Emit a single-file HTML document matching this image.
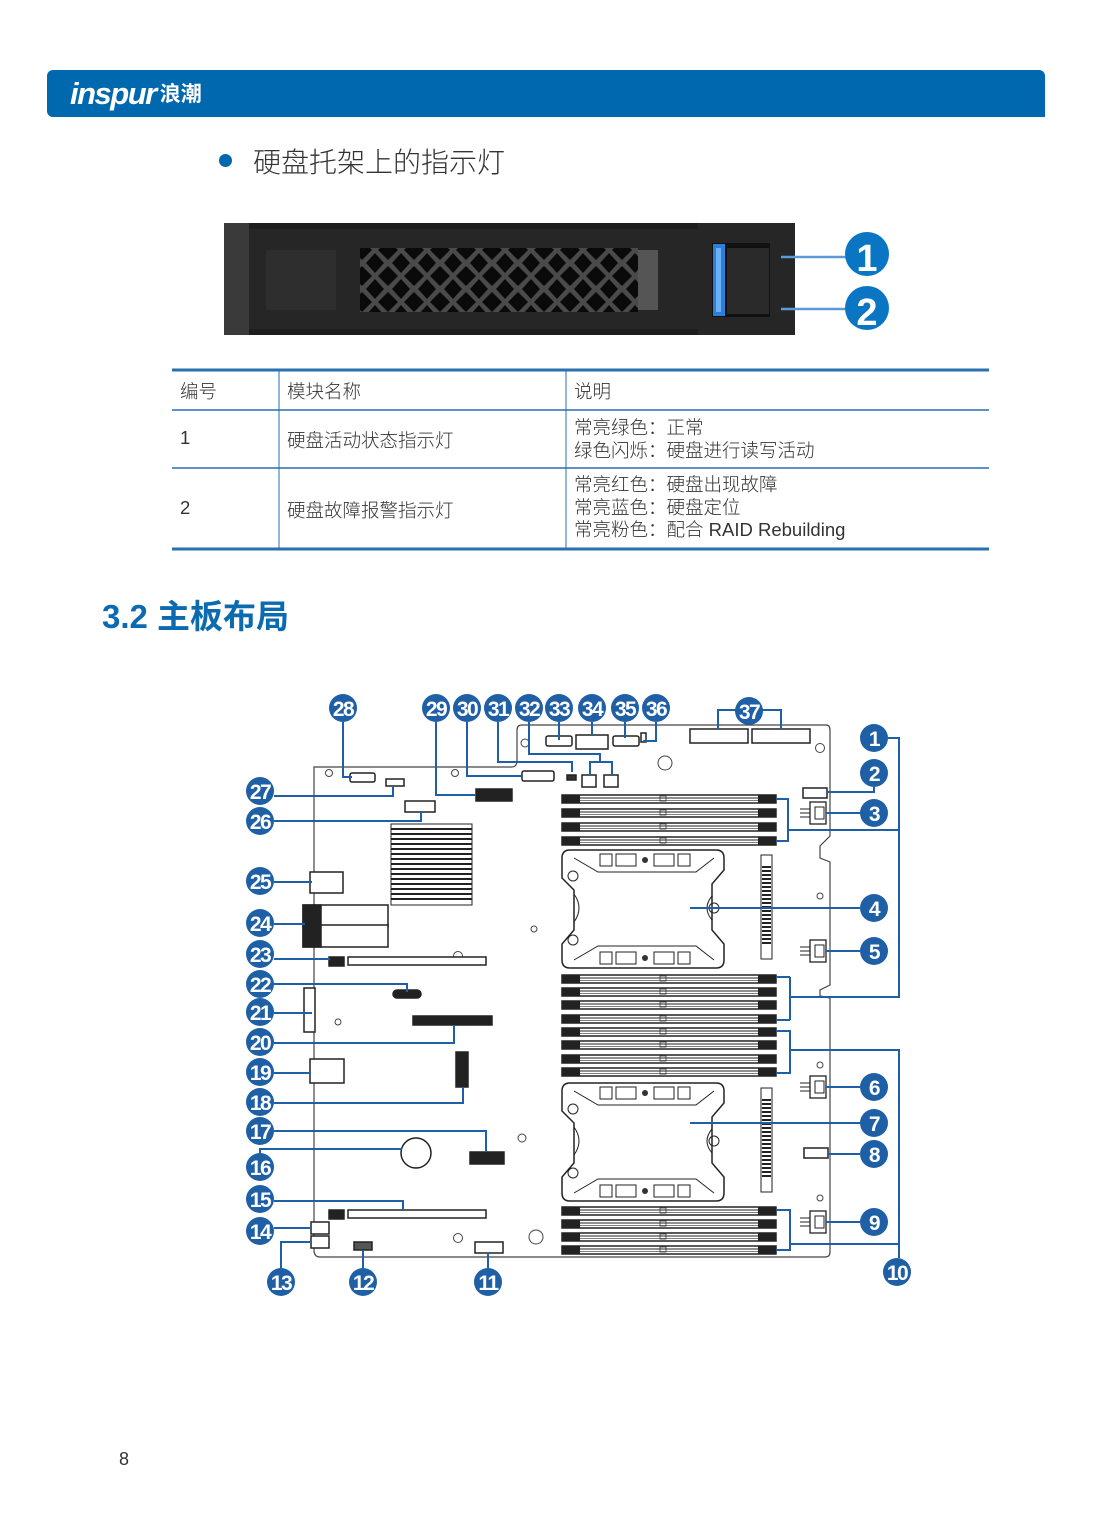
<!DOCTYPE html>
<html><head><meta charset="utf-8"><style>
body{margin:0;width:1093px;height:1535px;position:relative;background:#fff;font-family:"Liberation Sans","Noto Sans CJK SC",sans-serif;overflow:hidden}
.a{position:absolute;white-space:nowrap}
.t{font-size:18.5px;color:#333;font-family:"Liberation Sans","Noto Sans CJK SC",sans-serif;font-weight:300}
</style></head><body>
<div class="a" style="left:47px;top:70px;width:998px;height:47px;background:#0068ae;border-radius:6px 6px 0 6px"></div>
<div class="a" style="left:70px;top:76px;color:#fff;font-size:31px;font-weight:bold;font-style:italic;letter-spacing:-1.5px">inspur<span style="font-size:21px;font-style:normal;font-family:'Noto Sans CJK SC',sans-serif;margin-left:4px;letter-spacing:0;vertical-align:3px">浪潮</span></div>
<div class="a" style="left:219px;top:154px;width:13px;height:13px;border-radius:50%;background:#0068ae"></div>
<div class="a" style="left:253px;top:141px;font-size:28px;color:#333;font-family:'Noto Sans CJK SC',sans-serif;font-weight:300">硬盘托架上的指示灯</div>

<svg class="a" style="left:0;top:0" width="1093" height="1535" viewBox="0 0 1093 1535">
<defs>
<pattern id="mesh" width="26" height="26" patternUnits="userSpaceOnUse" patternTransform="translate(362,250)">
<rect width="26" height="26" fill="#4a4a4a"/>
<path d="M13 3 L22 13 L13 23 L4 13Z" fill="#0a0a0a"/>
<path d="M0 -10 L10 0 L0 10 L-10 0Z M26 -10 L36 0 L26 10 L16 0Z M0 16 L10 26 L0 36 L-10 26Z M26 16 L36 26 L26 36 L16 26Z" fill="#0a0a0a"/>
</pattern>
<g id="dimm"><rect x="562" y="0" width="214" height="8" fill="#fff" stroke="#222" stroke-width="1.5"/><rect x="562" y="0" width="18" height="8" fill="#222"/><rect x="758" y="0" width="18" height="8" fill="#222"/><line x1="580" y1="3" x2="758" y2="3" stroke="#222" stroke-width="1"/><line x1="580" y1="5.5" x2="758" y2="5.5" stroke="#555" stroke-width="0.8"/><rect x="660" y="1" width="6" height="5" fill="none" stroke="#333" stroke-width="0.8"/></g>
<g id="cpu"><path d="M570 0 H716 Q724 0 724 8 V20 L712 34 V80 L724 94 V110 Q724 118 716 118 H570 Q562 118 562 110 V94 L574 80 V40 L562 28 V8 Q562 0 570 0Z" fill="#fff" stroke="#222" stroke-width="1.5"/><path d="M574 8 L598 22 H696 L714 8" fill="none" stroke="#222"/><path d="M574 110 L598 96 H696 L714 110" fill="none" stroke="#222"/>
<rect x="600" y="4" width="12" height="12" fill="none" stroke="#222"/><rect x="616" y="4" width="20" height="12" fill="none" stroke="#222"/><rect x="654" y="4" width="20" height="12" fill="none" stroke="#222"/><rect x="678" y="4" width="12" height="12" fill="none" stroke="#222"/><circle cx="645" cy="10" r="3" fill="#333"/>
<rect x="600" y="102" width="12" height="12" fill="none" stroke="#222"/><rect x="616" y="102" width="20" height="12" fill="none" stroke="#222"/><rect x="654" y="102" width="20" height="12" fill="none" stroke="#222"/><rect x="678" y="102" width="12" height="12" fill="none" stroke="#222"/><circle cx="645" cy="108" r="3" fill="#333"/>
<circle cx="573" cy="26" r="5" fill="none" stroke="#222"/><circle cx="573" cy="90" r="5" fill="none" stroke="#222"/><circle cx="714" cy="58" r="5" fill="none" stroke="#222"/><path d="M712 46 Q702 58 712 70" fill="none" stroke="#222"/><path d="M574 44 Q584 58 574 72" fill="none" stroke="#222"/></g>
<g id="vconn"><rect x="761" y="0" width="11" height="104" fill="#fff" stroke="#222"/><path d="M762 12 h9 M762 16 h9 M762 20 h9 M762 24 h9 M762 28 h9 M762 32 h9 M762 36 h9 M762 40 h9 M762 44 h9 M762 48 h9 M762 52 h9 M762 56 h9 M762 60 h9 M762 64 h9 M762 68 h9 M762 72 h9 M762 76 h9 M762 80 h9 M762 84 h9 M762 88 h9" stroke="#222" stroke-width="2"/></g>
<g id="fan"><rect x="810" y="-11" width="16" height="22" fill="#fff" stroke="#222" stroke-width="1.3"/><path d="M800 -4 h10 M800 0 h10 M800 4 h10" stroke="#222"/><rect x="815" y="-6" width="9" height="12" fill="none" stroke="#222"/></g>
</defs>

<rect x="224" y="223" width="571" height="112" fill="#1e1e1e"/>
<rect x="224" y="223" width="25" height="112" fill="#3a3a3a"/>
<rect x="249" y="229" width="450" height="100" fill="#262626"/>
<rect x="266" y="250" width="70" height="60" fill="#2e2e2e"/>
<rect x="360" y="248" width="278" height="64" fill="url(#mesh)"/>
<rect x="638" y="250" width="20" height="60" fill="#555"/>
<rect x="698" y="223" width="97" height="112" fill="#262626"/>
<rect x="712" y="243" width="58" height="74" fill="#111"/>
<rect x="713" y="244" width="12" height="72" fill="#2b7fd6"/><rect x="716" y="248" width="5" height="64" fill="#6cb0f5"/>
<rect x="727" y="248" width="42" height="66" fill="#2a2a2a"/>
<line x1="781" y1="257" x2="846" y2="257" stroke="#5a9bd5" stroke-width="2.5"/>
<line x1="781" y1="309" x2="846" y2="309" stroke="#5a9bd5" stroke-width="2.5"/>
<ellipse cx="867" cy="254" rx="22" ry="22" fill="#0a75c2"/><text x="867" y="271" font-size="38" font-weight="bold" fill="#fff" text-anchor="middle" font-family="Liberation Sans Narrow,Liberation Sans,sans-serif">1</text>
<ellipse cx="867" cy="308" rx="22" ry="22" fill="#0a75c2"/><text x="867" y="325" font-size="38" font-weight="bold" fill="#fff" text-anchor="middle" font-family="Liberation Sans Narrow,Liberation Sans,sans-serif">2</text>

<g stroke="#2a6fb0"><line x1="172" y1="370" x2="989" y2="370" stroke-width="3"/><line x1="172" y1="410" x2="989" y2="410" stroke-width="1.5"/><line x1="172" y1="468" x2="989" y2="468" stroke-width="1.5"/><line x1="172" y1="549" x2="989" y2="549" stroke-width="3"/><line x1="279" y1="370" x2="279" y2="549"/><line x1="566" y1="370" x2="566" y2="549"/></g>

<path d="M314 767 H512 Q517 767 517 760 V730 Q517 725 522 725 H826 Q830 725 830 730 V836 L820 846 V858 L830 862 V985 L820 990 V996 L830 998 V1252 Q830 1257 825 1257 H320 Q314 1257 314 1250 Z" fill="#fff" stroke="#444" stroke-width="1.2"/>
<g fill="none" stroke="#444"><circle cx="329" cy="773" r="3.5"/><circle cx="455" cy="773" r="3.5"/><circle cx="525" cy="743" r="4"/><circle cx="820" cy="748" r="4.5"/><circle cx="820" cy="896" r="3"/><circle cx="534" cy="929" r="3"/><circle cx="458" cy="956" r="4.5"/><circle cx="338" cy="1022" r="3"/><circle cx="522" cy="1138" r="4"/><circle cx="820" cy="1065" r="3"/><circle cx="820" cy="1198" r="3"/><circle cx="458" cy="1238" r="4.5"/><circle cx="665" cy="763" r="7"/><circle cx="536" cy="1237" r="7"/></g>
<g fill="#fff" stroke="#222" stroke-width="1.5">
<rect x="350" y="773" width="25" height="9" rx="2"/><rect x="386" y="779" width="18" height="7"/><rect x="405" y="801" width="30" height="11"/><rect x="476" y="789" width="36" height="12" fill="#222"/><rect x="522" y="771" width="32" height="10" rx="2"/>
<rect x="546" y="736" width="26" height="10" rx="2"/><rect x="576" y="735" width="32" height="14"/><rect x="613" y="736" width="26" height="10" rx="2"/><rect x="641" y="733" width="5" height="9"/>
<rect x="567" y="775" width="9" height="5" fill="#333"/><rect x="582" y="775" width="14" height="12"/><rect x="604" y="775" width="14" height="12"/>
<rect x="690" y="729" width="58" height="14"/><rect x="752" y="729" width="58" height="14"/><rect x="803" y="788" width="24" height="10"/>
<rect x="310" y="872" width="33" height="21"/><rect x="303" y="905" width="85" height="22"/><rect x="303" y="925" width="85" height="22"/><rect x="303" y="905" width="18" height="42" fill="#222"/>
<rect x="329" y="957" width="15" height="9" fill="#222"/><rect x="348" y="957" width="138" height="8"/>
<rect x="393" y="990" width="28" height="8" rx="4" fill="#222"/><rect x="304" y="988" width="11" height="44"/>
<rect x="413" y="1016" width="79" height="9" fill="#222"/><rect x="310" y="1059" width="34" height="24"/>
<rect x="456" y="1052" width="12" height="35" fill="#222"/>
<circle cx="416" cy="1153" r="15"/><rect x="470" y="1152" width="34" height="12" fill="#222"/>
<rect x="329" y="1210" width="15" height="9" fill="#222"/><rect x="348" y="1210" width="138" height="8"/>
<rect x="311" y="1222" width="18" height="12"/><rect x="311" y="1236" width="18" height="12"/>
<rect x="354" y="1242" width="18" height="8" fill="#555"/><rect x="475" y="1242" width="28" height="11"/><rect x="804" y="1148" width="24" height="10"/>
</g>
<g stroke="#222" stroke-width="2"><rect x="391" y="824" width="81" height="81" fill="#fff" stroke-width="1"/>
<path d="M391 829h81M391 834h81M391 839h81M391 844h81M391 849h81M391 854h81M391 859h81M391 864h81M391 869h81M391 874h81M391 879h81M391 884h81M391 889h81M391 894h81M391 899h81"/></g>
<use href="#dimm" y="795"/><use href="#dimm" y="809"/><use href="#dimm" y="823"/><use href="#dimm" y="837"/>
<use href="#dimm" y="975"/><use href="#dimm" y="988"/><use href="#dimm" y="1001"/><use href="#dimm" y="1015"/><use href="#dimm" y="1028"/><use href="#dimm" y="1041"/><use href="#dimm" y="1055"/><use href="#dimm" y="1068"/>
<use href="#dimm" y="1207"/><use href="#dimm" y="1220"/><use href="#dimm" y="1233"/><use href="#dimm" y="1246"/>
<use href="#cpu" y="850"/><use href="#cpu" y="1083"/>
<use href="#vconn" y="855"/><use href="#vconn" y="1088"/>
<use href="#fan" y="813"/><use href="#fan" y="951"/><use href="#fan" y="1087"/><use href="#fan" y="1222"/>

<g fill="none" stroke="#1f5fa6" stroke-width="2">
<path d="M343 722V777H352M436 722V795H476M467 722V776H522M498 722V762H572V772M529 722V754H600V762M590 775V762H612V775M559 722V740M592 722V735M625 722V738M656 722V741H643M718 729V710H781V729"/>
<path d="M274 796H393V786M274 821H421V811M274 882H312M274 924H305M274 959H330M274 984H407V992M274 1013H312M274 1043H454V1025M274 1073H311M274 1103H463V1087M274 1131H486V1152M260 1153V1149H402M274 1201H403V1210M274 1228H311M281 1268V1242H311M363 1268V1250M488 1268V1253"/>
<path d="M888 738H899V997H790V977M790 1020V997M776 977H790M776 1020H790M776 799H788V841H776M788 830H899M874 787V792H828M860 813H826M860 908H690M860 951H826"/>
<path d="M899 1258V1050H790V1031M776 1031H790V1073H776M860 1087H826M860 1123H690M860 1154H828M860 1222H826M899 1244H790V1210H776M790 1244V1250H776"/>
</g>
<g fill="#1f5fa6">
<circle cx="343" cy="708" r="14"/><circle cx="436" cy="708" r="14"/><circle cx="467" cy="708" r="14"/><circle cx="498" cy="708" r="14"/><circle cx="529" cy="708" r="14"/><circle cx="559" cy="708" r="14"/><circle cx="592" cy="708" r="14"/><circle cx="625" cy="708" r="14"/><circle cx="656" cy="708" r="14"/><circle cx="749" cy="711" r="14"/>
<circle cx="874" cy="738" r="14"/><circle cx="874" cy="773" r="14"/><circle cx="874" cy="813" r="14"/><circle cx="874" cy="908" r="14"/><circle cx="874" cy="951" r="14"/><circle cx="874" cy="1087" r="14"/><circle cx="874" cy="1123" r="14"/><circle cx="874" cy="1154" r="14"/><circle cx="874" cy="1222" r="14"/><circle cx="897" cy="1272" r="14"/>
<circle cx="260" cy="791" r="14"/><circle cx="260" cy="821" r="14"/><circle cx="260" cy="881" r="14"/><circle cx="260" cy="923" r="14"/><circle cx="260" cy="954" r="14"/><circle cx="260" cy="984" r="14"/><circle cx="260" cy="1012" r="14"/><circle cx="260" cy="1042" r="14"/><circle cx="260" cy="1072" r="14"/><circle cx="260" cy="1102" r="14"/><circle cx="260" cy="1131" r="14"/><circle cx="260" cy="1167" r="14"/><circle cx="260" cy="1199" r="14"/><circle cx="260" cy="1231" r="14"/>
<circle cx="281" cy="1282" r="14"/><circle cx="363" cy="1282" r="14"/><circle cx="488" cy="1282" r="14"/>
</g>
<g fill="#fff" font-size="21" font-weight="bold" text-anchor="middle" font-family="Liberation Sans Narrow,Liberation Sans,sans-serif" letter-spacing="-1.5">
<text x="343" y="716">28</text><text x="436" y="716">29</text><text x="467" y="716">30</text><text x="498" y="716">31</text><text x="529" y="716">32</text><text x="559" y="716">33</text><text x="592" y="716">34</text><text x="625" y="716">35</text><text x="656" y="716">36</text><text x="749" y="719">37</text>
<text x="874" y="746">1</text><text x="874" y="781">2</text><text x="874" y="821">3</text><text x="874" y="916">4</text><text x="874" y="959">5</text><text x="874" y="1095">6</text><text x="874" y="1131">7</text><text x="874" y="1162">8</text><text x="874" y="1230">9</text><text x="897" y="1280">10</text>
<text x="260" y="799">27</text><text x="260" y="829">26</text><text x="260" y="889">25</text><text x="260" y="931">24</text><text x="260" y="962">23</text><text x="260" y="992">22</text><text x="260" y="1020">21</text><text x="260" y="1050">20</text><text x="260" y="1080">19</text><text x="260" y="1110">18</text><text x="260" y="1139">17</text><text x="260" y="1175">16</text><text x="260" y="1207">15</text><text x="260" y="1239">14</text>
<text x="281" y="1290">13</text><text x="363" y="1290">12</text><text x="488" y="1290">11</text>
</g>
</svg>

<div class="a t" style="left:180px;top:378px">编号</div>
<div class="a t" style="left:287px;top:378px">模块名称</div>
<div class="a t" style="left:574px;top:378px">说明</div>
<div class="a t" style="left:180px;top:427px">1</div>
<div class="a t" style="left:287px;top:427px">硬盘活动状态指示灯</div>
<div class="a t" style="left:574px;top:416px;line-height:23px">常亮绿色：正常<br>绿色闪烁：硬盘进行读写活动</div>
<div class="a t" style="left:180px;top:497px">2</div>
<div class="a t" style="left:287px;top:497px">硬盘故障报警指示灯</div>
<div class="a t" style="left:574px;top:474px;line-height:22.5px">常亮红色：硬盘出现故障<br>常亮蓝色：硬盘定位<br>常亮粉色：配合 RAID Rebuilding</div>
<div class="a" style="left:102px;top:590px;font-size:33px;font-weight:bold;color:#0b6ab0">3.2 主板布局</div>
<div class="a" style="left:119px;top:1449px;font-size:18px;color:#333">8</div>
</body></html>
